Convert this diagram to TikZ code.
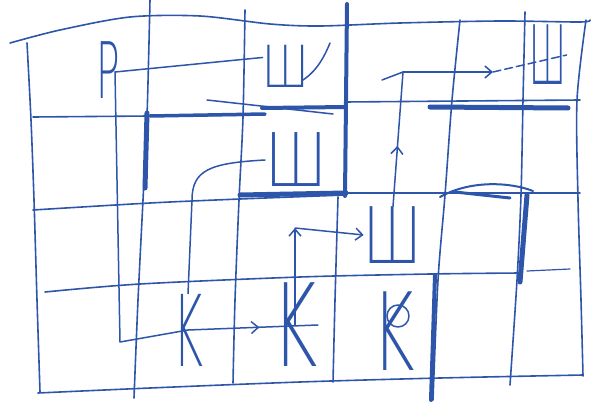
\documentclass[tikz,border=0pt]{standalone}
\usepackage{fontspec}
\usepackage{graphicx}
\newfontfamily\pen{DejaVuSans-ExtraLight.ttf}
\usetikzlibrary{arrows.meta,decorations.markings}
\definecolor{ink}{RGB}{45,85,170}
\newcommand\glyphtxt[3]{\scalebox{#1}[1]{\fontsize{#2}{#2}\selectfont #3}}
\begin{document}
\begin{tikzpicture}[x=1pt,y=-1pt,line cap=round,line join=round,
  grid/.style={ink,line width=1.6pt},
  wall/.style={ink,line width=4.5pt},
  conn/.style={ink,line width=1.5pt},
  arr/.style={conn,-{Straight Barb[length=7pt,width=12pt]}},
  midarr/.style={conn,postaction={decorate},decoration={markings,
     mark=at position #1 with {\arrow{Straight Barb[length=7pt,width=12pt]}}}},
  glyph/.style={ink,inner sep=0pt,font=\pen}]
\useasboundingbox (0,0) rectangle (593,401);
% outer border
\draw[grid] plot[smooth] coordinates {(10,43) (60,30) (130,17) (200,16) (270,24) (320,26) (400,23) (500,21) (580,22) (590,20)};
\draw[grid] plot[smooth] coordinates {(27,43) (31,120) (34,200) (37,300) (40,392)};
\draw[grid] plot[smooth] coordinates {(38,393) (150,388) (300,382) (440,378) (583,375)};
\draw[grid] plot[smooth] coordinates {(586,20) (577,100) (578,200) (581,300) (583,376)};
% horizontal grid lines
\draw[grid] (33,117) -- (265,115);
\draw[grid] (345,102) -- (580,100);
\draw[grid] plot[smooth] coordinates {(33,210) (150,203) (240,199) (345,195)};
\draw[grid] (345,193) -- (580,193);
\draw[grid] plot[smooth] coordinates {(45,292) (140,284) (300,277) (430,274) (520,273)};
% vertical grid lines
\draw[grid] plot[smooth] coordinates {(150,0) (147,117) (143,200) (138,300) (134,398)};
\draw[grid] plot[smooth] coordinates {(245,10) (243,117) (239,200) (235,300) (233,383)};
\draw[grid] plot[smooth] coordinates {(338,197) (335,300) (333,382)};
\draw[grid] plot[smooth] coordinates {(460,20) (452,100) (445,195) (438,280) (433,400)};
\draw[grid] plot[smooth] coordinates {(525,12) (523,100) (521,195) (517,280) (510,385)};
% walls
\draw[wall,line width=5pt] (147,113) -- (145,188);
\draw[wall,line width=3.5pt] (150,116) -- (265,114);
\draw[conn] (207,100) -- (333,114);
\draw[wall,line width=4pt] (262,108) -- (346,107);
\draw[wall,line width=4pt] (347,4) -- (345,196);
\draw[wall,line width=5pt] (240,195) -- (346,193);
\draw[wall,line width=5pt] (430,107) -- (568,108);
\draw[conn,line width=2pt] (440,197) .. controls (470,180) and (510,182) .. (533,191);
\draw[conn,line width=3pt] (455,192) -- (510,198);
\draw[wall,line width=5pt] (527,195) -- (520,282);
\draw[wall,line width=4pt] (435,275) -- (431,400);
\draw[ink,line width=1.2pt] (527,271) -- (570,269);
% letters
\node[glyph] (P) at (108,70) {\glyphtxt{0.5}{78}{P}};
\node[glyph] (Sh1) at (286,66) {\glyphtxt{0.75}{58}{Ш}};
\node[glyph] (Sh2) at (296,160) {\glyphtxt{0.78}{74}{Ш}};
\node[glyph] (Sh3) at (393,235) {\glyphtxt{0.7}{78}{Ш}};
\node[glyph] (Sh4) at (548,55) {\glyphtxt{0.42}{82}{Ш}};
\node[glyph] (K1) at (188,330) {\glyphtxt{0.46}{99}{K}};
\node[glyph] (K2) at (295,325) {\glyphtxt{0.6}{115}{K}};
\node[glyph] (K3) at (394,331) {\glyphtxt{0.6}{108}{K}};
\draw[conn] (303,80) .. controls (318,70) and (325,55) .. (330,43);
\draw[conn] (398,316) circle (11);
% connectors
\coordinate (pc) at (115,72);
\coordinate (pb) at (120,342);
\coordinate (up1) at (295,228);
\coordinate (v1) at (403,72);
\coordinate (a2) at (493,72);
\draw[conn] (pc) -- (Sh1.160);
\draw[conn] (pc) -- (pb) -- (K1.center);
\draw[midarr=0.55] (K1.center) -- (K2.east);
\draw[conn] (Sh2.west) .. controls (210,163) and (192,170) .. (192,200) -- (K1.north);
\draw[arr] (K2.center) -- (up1);
\draw[arr] (up1) -- (Sh3.west);
\draw[midarr=0.45] (Sh3.north) -- (v1);
\draw[conn] (382,80) -- (v1);
\draw[arr] (v1) -- (a2);
\draw[conn,dash pattern=on 8pt off 4pt] (a2) -- (Sh4.east);
\end{tikzpicture}
\end{document}
